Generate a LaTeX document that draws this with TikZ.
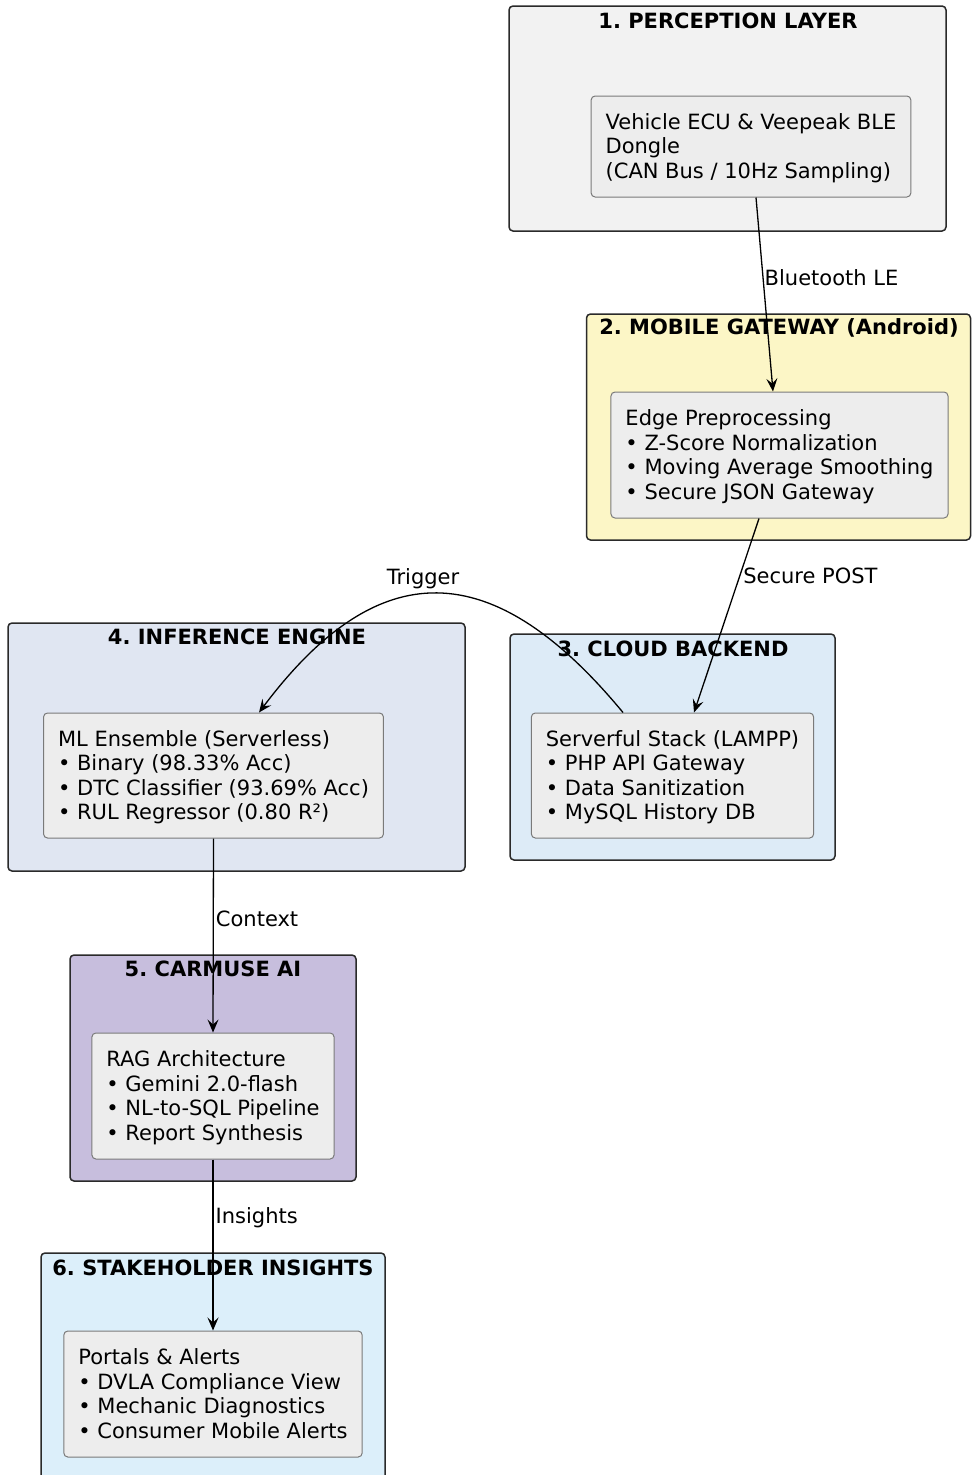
\documentclass[tikz,border=0pt]{standalone}
\usepackage{fontspec}
\setmainfont{DejaVu Sans}
\usetikzlibrary{arrows.meta}
\definecolor{cPer}{HTML}{F2F2F2}
\definecolor{cMob}{HTML}{FCF6C6}
\definecolor{cCloud}{HTML}{DDEBF7}
\definecolor{cInf}{HTML}{E0E6F2}
\definecolor{cCar}{HTML}{C7BEDD}
\definecolor{cStake}{HTML}{DCEFFA}
\definecolor{cInner}{HTML}{EDEDED}
\definecolor{cInnerLine}{HTML}{7A7A7A}
\definecolor{cLine}{HTML}{2A2A2A}
\newcommand{\boxtext}[1]{\raisebox{-2.5pt}[\height][\depth]{\begin{tabular}{@{}l@{}}#1\end{tabular}}}
\tikzset{
  cluster/.style={draw=cLine, line width=1.5pt, rounded corners=4pt, inner sep=0pt, outer sep=0pt},
  ctitle/.style={font=\fontsize{21}{24}\selectfont\bfseries\frenchspacing, inner sep=0pt, anchor=center},
  inner/.style={draw=cInnerLine, line width=1pt, fill=cInner, rounded corners=4pt,
    font=\fontsize{21}{24.5}\selectfont\frenchspacing, inner xsep=14.5pt, inner ysep=0pt, anchor=center},
  flow/.style={draw=black, line width=1.3pt, -{Stealth[length=13pt,width=11pt,inset=5pt]}},
  elabel/.style={font=\fontsize{21}{24}\selectfont, inner sep=0pt, text=black}
}
\begin{document}
\begin{tikzpicture}[x=1pt,y=-1pt]
\useasboundingbox (0,0) rectangle (972,1475);
\fill[white] (0,0) rectangle (972,1475);
% clusters
\node[cluster, fill=cPer, minimum width=437pt, minimum height=225pt] (c1) at (727.5,118.5) {};
\node[cluster, fill=cMob, minimum width=384pt, minimum height=226pt] (c2) at (778.5,427) {};
\node[cluster, fill=cCloud, minimum width=325pt, minimum height=226pt] (c3) at (672.5,747) {};
\node[cluster, fill=cInf, minimum width=457pt, minimum height=248pt] (c4) at (236.5,747) {};
\node[cluster, fill=cCar, minimum width=286pt, minimum height=226pt] (c5) at (213,1068) {};
\node[cluster, fill=cStake, minimum width=344pt, minimum height=240pt] (c6) at (213,1373) {};
% titles
\node[ctitle] (t1) at (728,21) {1. PERCEPTION LAYER};
\node[ctitle] (t2) at (779,328) {2. MOBILE GATEWAY (Android)};
\node[ctitle] (t3) at (673,649) {3. CLOUD BACKEND};
\node[ctitle] (t4) at (237,637) {4. INFERENCE ENGINE};
\node[ctitle] (t5) at (213,969) {5. CARMUSE AI};
\node[ctitle] (t6) at (213,1268) {6. STAKEHOLDER INSIGHTS};
% inner nodes
\node[inner, minimum height=101pt] (n1) at (751,146.5)
  {\boxtext{Vehicle ECU \& Veepeak BLE\\Dongle\\(CAN Bus / 10Hz Sampling)}};
\node[inner, minimum height=126pt] (n2) at (779.5,455)
  {\boxtext{Edge Preprocessing\\• Z-Score Normalization\\• Moving Average Smoothing\\• Secure JSON Gateway}};
\node[inner, minimum height=125pt] (n3) at (672.5,775.5)
  {\boxtext{Serverful Stack (LAMPP)\\• PHP API Gateway\\• Data Sanitization\\• MySQL History DB}};
\node[inner, minimum height=125pt] (n4) at (213.5,775.5)
  {\boxtext{ML Ensemble (Serverless)\\• Binary (98.33\% Acc)\\• DTC Classifier (93.69\% Acc)\\• RUL Regressor (0.80 R²)}};
\node[inner, minimum height=126pt] (n5) at (213,1096)
  {\boxtext{RAG Architecture\\• Gemini 2.0-flash\\• NL-to-SQL Pipeline\\• Report Synthesis}};
\node[inner, minimum height=126pt] (n6) at (213,1394)
  {\boxtext{Portals \& Alerts\\• DVLA Compliance View\\• Mechanic Diagnostics\\• Consumer Mobile Alerts}};
% connectors
\draw[flow] ([xshift=5pt]n1.south) -- node[elabel, pos=0.415, anchor=west, xshift=1pt] (l1) {Bluetooth LE} ([xshift=-6.5pt]n2.north);
\draw[flow] ([xshift=-20.5pt]n2.south) -- node[elabel, pos=0.297, anchor=west, xshift=3pt] (l2) {Secure POST} ([xshift=21.5pt]n3.north);
\draw[flow] ([xshift=-49.5pt]n3.north) .. controls (492,554) and (378,554) .. ([xshift=45.5pt]n4.north);
\node[elabel] (l3) at (423,579) {Trigger};
\draw[flow] (n4.south) -- node[elabel, pos=0.415, anchor=west, xshift=2pt] (l4) {Context} (n5.north);
\draw[flow] (n5.south) -- node[elabel, pos=0.34, anchor=west, xshift=2pt] (l5) {Insights} (n6.north);
\end{tikzpicture}
\end{document}
